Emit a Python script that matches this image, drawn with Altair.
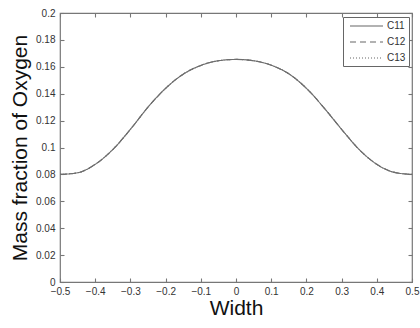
import altair as alt
import pandas as pd

width_vals = [-0.5, -0.45, -0.4, -0.35, -0.3, -0.25, -0.2, -0.15, -0.1, -0.05, 0.0,
              0.05, 0.1, 0.15, 0.2, 0.25, 0.3, 0.35, 0.4, 0.45, 0.5]
c11 = [0.0800, 0.0812, 0.0875, 0.0985, 0.1135, 0.1300, 0.1440, 0.1545, 0.1610, 0.1645, 0.1655,
       0.1645, 0.1612, 0.1548, 0.1440, 0.1295, 0.1135, 0.0985, 0.0875, 0.0815, 0.0800]
c12 = [0.0800, 0.0812, 0.0875, 0.0985, 0.1135, 0.1300, 0.1440, 0.1545, 0.1610, 0.1645, 0.1655,
       0.1645, 0.1612, 0.1548, 0.1440, 0.1295, 0.1135, 0.0985, 0.0875, 0.0815, 0.0800]
c13 = [0.0800, 0.0812, 0.0875, 0.0985, 0.1135, 0.1300, 0.1440, 0.1545, 0.1610, 0.1645, 0.1655,
       0.1645, 0.1612, 0.1548, 0.1440, 0.1295, 0.1135, 0.0985, 0.0875, 0.0815, 0.0800]
series_names = ["C11", "C12", "C13"]
x_ticks = [-0.5, -0.4, -0.3, -0.2, -0.1, 0.0, 0.1, 0.2, 0.3, 0.4, 0.5]
y_ticks = [0.0, 0.02, 0.04, 0.06, 0.08, 0.1, 0.12, 0.14, 0.16, 0.18, 0.2]

rows = []
for name, vals in zip(series_names, [c11, c12, c13]):
    for i, (xv, yv) in enumerate(zip(width_vals, vals)):
        rows.append({"Width": xv, "Value": yv, "Series": name, "order": i})
df = pd.DataFrame(rows)

FONT = "Liberation Sans"

xscale = alt.Scale(domain=[-0.5, 0.5], nice=False, zero=False)
yscale = alt.Scale(domain=[0, 0.2], nice=False, zero=False)

lines = alt.Chart(df).mark_line(strokeWidth=1.1, color="#6e6e6e", interpolate="monotone").encode(
    x=alt.X("Width:Q", scale=xscale,
            axis=alt.Axis(orient="bottom", values=x_ticks, format="~g", offset=-4, tickSize=4,
                          domain=False, labelPadding=4, labelFlush=False, labelOverlap=False,
                          title="Width", titleFontSize=21, titlePadding=1,
                          titleFontWeight="normal", titleColor="#111")),
    y=alt.Y("Value:Q", scale=yscale,
            axis=alt.Axis(orient="left", values=y_ticks, format="~g", offset=-4, tickSize=4,
                          domain=False, labelPadding=5, labelFlush=False, labelOverlap=False,
                          title="Mass fraction of Oxygen", titleFontSize=21, titlePadding=5,
                          titleFontWeight="normal", titleColor="#111")),
    strokeDash=alt.StrokeDash("Series:N",
                              scale=alt.Scale(domain=series_names, range=[[1, 0], [6, 4], [1, 2]]),
                              legend=alt.Legend(title=None, orient="none", legendX=283, legendY=4,
                                                symbolType="M-0.4,0L6.2,0", symbolSize=100,
                                                symbolStrokeColor="#666", symbolStrokeWidth=1.2,
                                                symbolFillColor="transparent",
                                                labelFontSize=10, labelFont=FONT, labelColor="#333",
                                                strokeColor="#666", fillColor="white",
                                                padding=3, rowPadding=5, labelOffset=29)),
    order="order:Q",
)

frame_axes = alt.Chart(df).mark_point(opacity=0).encode(
    x=alt.X("Width:Q", scale=xscale,
            axis=alt.Axis(orient="top", values=x_ticks, offset=-4, tickSize=4, domain=False,
                          labels=False, title=None)),
    y=alt.Y("Value:Q", scale=yscale,
            axis=alt.Axis(orient="right", values=y_ticks, offset=-4, tickSize=4, domain=False,
                          labels=False, title=None)),
)

chart = alt.layer(lines, frame_axes).resolve_axis(x="independent", y="independent").properties(
    width=352, height=269,
    autosize=alt.AutoSizeParams(type="none"),
    padding={"left": 60, "top": 13, "right": 8, "bottom": 46},
    background="white",
).configure_view(stroke="#777", strokeWidth=1.2).configure_axis(
    labelFont=FONT, titleFont=FONT, labelFontSize=10, labelColor="#333",
    tickColor="#777", tickWidth=1.1, grid=False,
)

chart.save("out.html", embed_options={"renderer": "svg", "actions": False})
